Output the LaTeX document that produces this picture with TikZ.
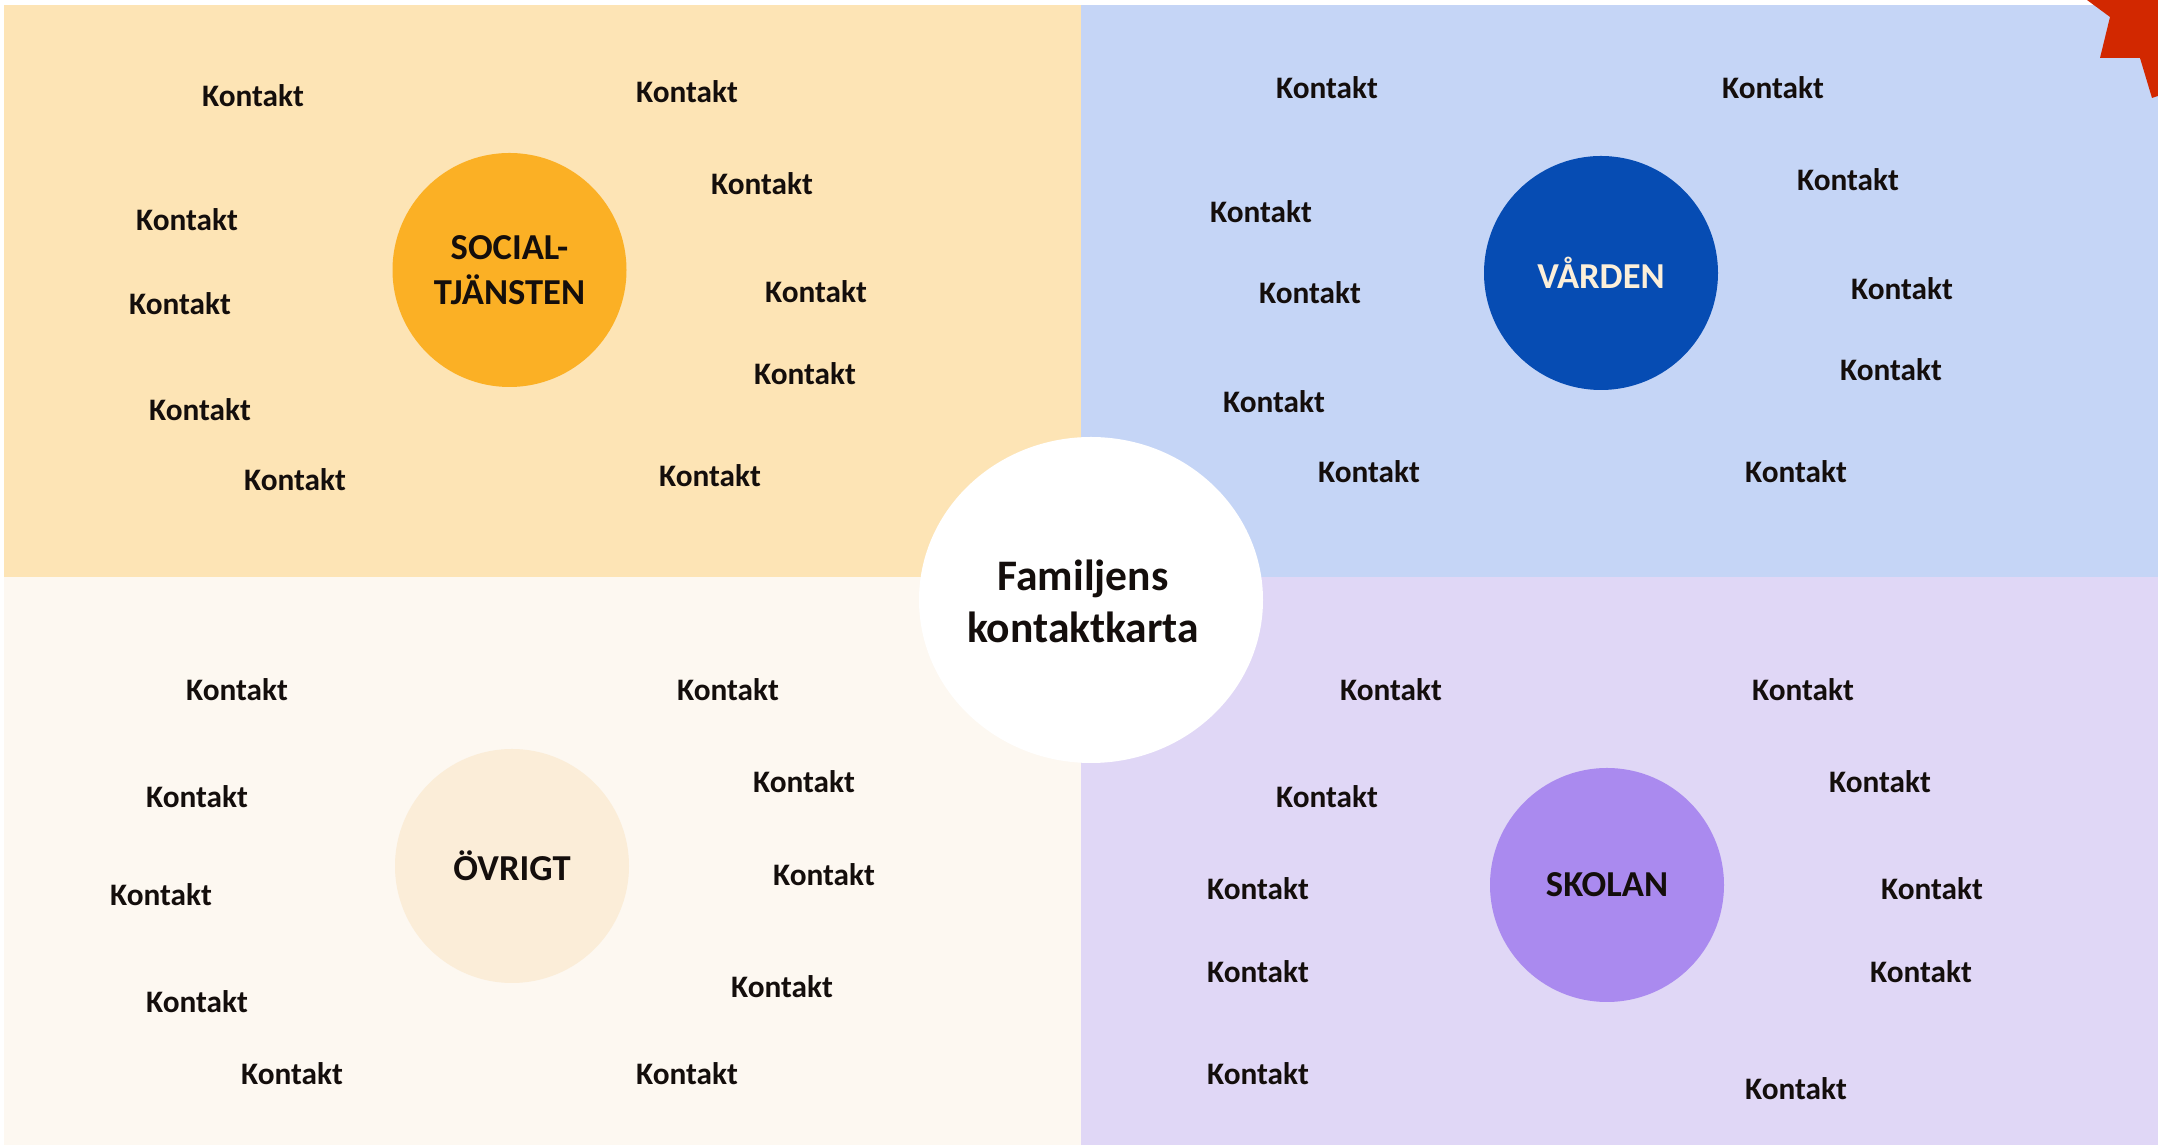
\documentclass[tikz,border=0pt]{standalone}
\usepackage{fontspec}
\setmainfont{Carlito}
\usetikzlibrary{shapes.geometric}

\definecolor{socbg}{HTML}{FDE4B5}
\definecolor{socfill}{HTML}{FBB025}
\definecolor{vardbg}{HTML}{C5D5F6}
\definecolor{vardfill}{HTML}{064CB3}
\definecolor{vardtext}{HTML}{FCEFD9}
\definecolor{skolbg}{HTML}{E0D7F6}
\definecolor{skolfill}{HTML}{AA8AEF}
\definecolor{ovrbg}{HTML}{FDF8F1}
\definecolor{ovrfill}{HTML}{FBEDD8}
\definecolor{starred}{HTML}{D22800}
\definecolor{textdark}{HTML}{140E0C}

\tikzset{
    kontakt/.style={font=\bfseries\fontsize{8.9}{10}\selectfont, text=textdark, inner sep=0pt},
    area/.style={circle, minimum size=2.34cm, inner sep=0pt, align=center,
        font=\bfseries\fontsize{10.4}{13}\selectfont, text=textdark},
}

\begin{document}
\begin{tikzpicture}
        \useasboundingbox (0,0) rectangle (21.58,11.46);

        % Quadrants
        \fill[socbg] (0.04,5.69) rectangle (10.81,11.41);
        \fill[vardbg] (10.81,5.69) rectangle (21.58,11.41);
        \fill[ovrbg] (0.04,0.01) rectangle (10.81,5.69);
        \fill[skolbg] (10.81,0.01) rectangle (21.58,5.69);

        % Star in the corner
        \fill[starred] (20.87,11.46) -- (21.10,11.29) -- (21.00,10.88) -- (21.40,10.88)
            -- (21.52,10.48) -- (21.58,10.50) -- (21.58,11.46) -- cycle;

        % Centre
        \node[ellipse, fill=white, minimum width=3.44cm, minimum height=3.26cm, inner sep=0pt]
            (karta) at (10.91,5.46) {};
        \node[align=center, font=\bfseries\fontsize{12.4}{14.8}\selectfont, text=textdark]
            (kartatext) at (10.83,5.45) {Familjens\\kontaktkarta};

        % Areas
        \node[area, fill=socfill] (social) at (5.095,8.76) {SOCIAL-\\TJÄNSTEN};
        \node[area, fill=vardfill, text=vardtext] (varden) at (16.01,8.73) {VÅRDEN};
        \node[area, fill=skolfill] (skolan) at (16.07,2.61) {SKOLAN};
        \node[area, fill=ovrfill] (ovrigt) at (5.12,2.80) {ÖVRIGT};

        % Contacts for social services
        \foreach \x/\y [count=\i] in {2.53/10.50, 6.87/10.54, 7.62/9.62, 1.87/9.26, 1.80/8.42,
            8.16/8.54, 8.05/7.72, 2.00/7.36, 2.95/6.66, 7.10/6.70} {
            \node[kontakt] (sk\i) at (\x,\y) {Kontakt};
        }

        % Contacts for health care
        \foreach \x/\y [count=\i] in {13.27/10.58, 17.73/10.58, 18.48/9.66, 12.61/9.34, 13.10/8.53,
            19.02/8.57, 18.91/7.76, 12.74/7.44, 13.69/6.74, 17.96/6.74} {
            \node[kontakt] (vk\i) at (\x,\y) {Kontakt};
        }

        % Contacts for other
        \foreach \x/\y [count=\i] in {2.37/4.56, 7.28/4.56, 1.97/3.49, 8.04/3.64, 1.61/2.51,
            8.24/2.71, 1.97/1.44, 7.82/1.59, 2.92/0.72, 6.87/0.72} {
            \node[kontakt] (ok\i) at (\x,\y) {Kontakt};
        }

        % Contacts for school
        \foreach \x/\y [count=\i] in {13.91/4.56, 18.03/4.56, 13.27/3.49, 18.80/3.64, 12.58/2.57,
            19.32/2.57, 12.58/1.74, 19.21/1.74, 12.58/0.72, 17.96/0.57} {
            \node[kontakt] (kk\i) at (\x,\y) {Kontakt};
        }

    \end{tikzpicture}
\end{document}
